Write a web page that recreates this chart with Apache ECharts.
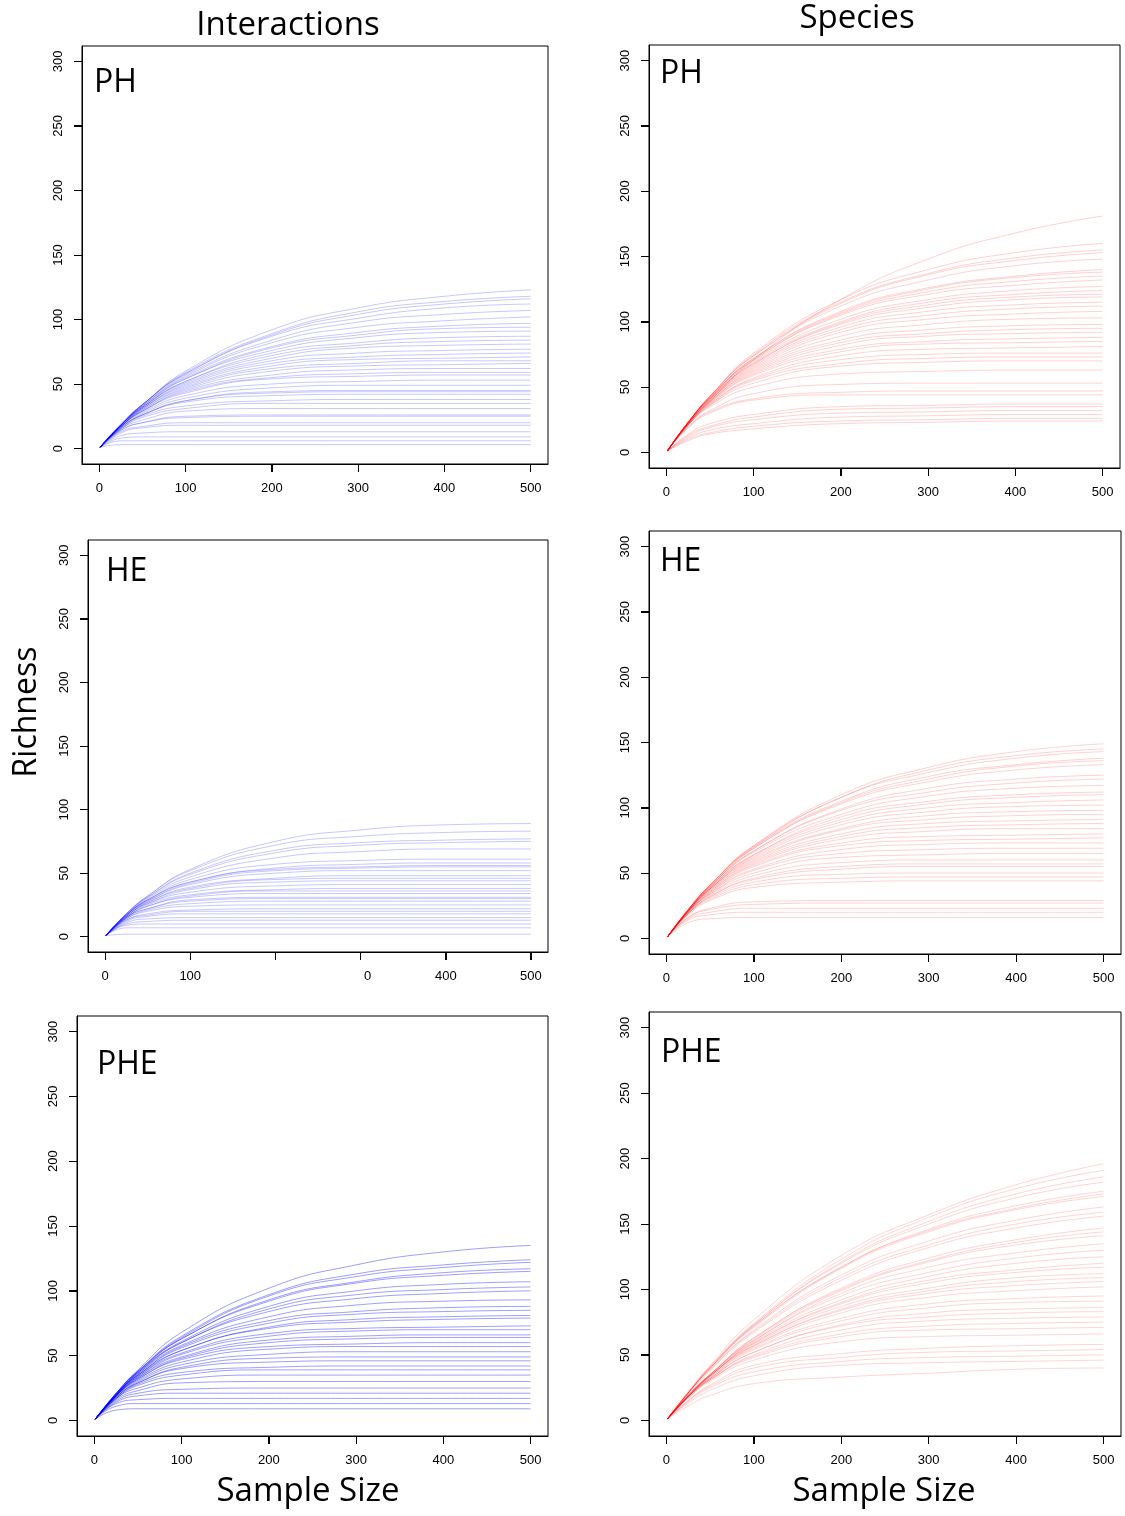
<!DOCTYPE html>
<html><head><meta charset="utf-8">
<script src="https://cdn.jsdelivr.net/npm/echarts@6/dist/echarts.min.js"></script>
<style>html,body{margin:0;padding:0;background:#fff}#c{width:1125px;height:1516px}</style>
</head><body><div id="c"></div>
<script>
// sample sizes at which each rarefaction curve is read
const sampleSizes = [1, 25, 50, 100, 200, 300, 400, 500];
const xTicks = [0, 100, 200, 300, 400, 500];
const yTicks = [0, 50, 100, 150, 200, 250, 300];

// Interactions, PH
const phInteractions = [
 [1,19,34,60,92,109,118,123],[1,19,34,59,89,106,114,118],[1,18,34,58,88,104,112,116],
 [1,18,34,58,87,101,109,112],[1,18,34,57,84,98,104,107],[1,18,33,56,82,94,99,102],
 [1,18,33,55,79,90,95,97],[1,18,33,54,78,88,93,94],[1,18,32,54,76,86,90,91],
 [1,18,32,52,74,82,86,87],[1,18,32,52,72,80,83,84],[1,18,32,51,70,78,80,81],
 [1,18,31,50,68,74,76,77],[1,17,31,49,66,71,73,74],[1,17,31,48,64,69,70,71],
 [1,17,30,47,62,66,68,68],[1,17,30,46,60,64,65,66],[1,17,29,45,57,61,62,62],
 [1,17,29,44,55,58,59,59],[1,17,29,43,54,56,57,57],[1,17,28,41,50,52,53,53],
 [1,16,27,39,47,49,49,49],[1,16,26,37,44,45,45,45],[1,16,26,37,43,44,44,44],
 [1,16,26,36,41,42,42,42],[1,15,25,33,37,38,38,38],[1,15,24,31,35,35,35,35],
 [1,15,22,29,31,31,31,31],[1,14,20,25,26,26,26,26],[1,14,20,24,25,25,25,25],
 [1,13,17,20,20,20,20,20],[1,12,16,18,18,18,18,18],[1,10,12,13,13,13,13,13],
 [1,8,9,9,9,9,9,9],[1,6,6,6,6,6,6,6],[1,3,3,3,3,3,3,3]
];
// Interactions, HE
const heInteractions = [
 [1,18,32,53,75,84,88,89],[1,18,32,52,72,79,82,83],[1,18,31,50,68,74,76,77],
 [1,18,31,49,66,72,74,75],[1,17,30,47,62,67,69,69],[1,17,29,45,57,60,61,61],
 [1,17,29,43,54,57,58,58],[1,17,29,43,53,55,56,56],[1,17,28,42,52,54,55,55],
 [1,17,28,41,50,52,52,52],[1,16,27,39,46,48,48,48],[1,16,27,38,45,46,46,46],
 [1,16,26,37,43,44,44,44],[1,16,26,35,40,41,41,41],[1,15,25,33,37,38,38,38],
 [1,15,24,32,36,36,36,36],[1,15,24,31,34,34,34,34],[1,15,22,29,31,31,31,31],
 [1,15,22,28,30,30,30,30],[1,14,21,26,28,28,28,28],[1,14,20,24,25,25,25,25],
 [1,13,18,21,22,22,22,22],[1,13,17,20,20,20,20,20],[1,12,16,18,18,18,18,18],
 [1,11,14,15,15,15,15,15],[1,10,12,13,13,13,13,13],[1,9,10,10,10,10,10,10],
 [1,7,7,7,7,7,7,7],[1,2,2,2,2,2,2,2]
];
// Interactions, PHE
const pheInteractions = [
 [1,21,39,68,102,120,130,135],[1,21,38,65,97,113,120,124],[1,21,38,64,96,111,118,122],
 [1,21,38,63,93,107,114,117],[1,20,37,63,92,106,112,115],[1,20,37,61,88,100,105,107],
 [1,20,37,60,86,97,101,103],[1,20,36,60,84,94,98,100],[1,20,36,58,80,89,92,93],
 [1,20,35,57,77,84,87,88],[1,20,35,56,75,82,84,85],[1,20,35,54,72,78,80,81],
 [1,20,34,54,71,76,78,79],[1,19,34,52,67,71,72,73],[1,19,33,51,65,69,70,70],
 [1,19,33,49,62,65,66,66],[1,19,32,48,60,63,64,64],[1,19,32,47,57,59,60,60],
 [1,19,31,45,55,57,57,57],[1,18,30,43,51,53,53,53],[1,18,29,41,48,49,49,49],
 [1,18,29,40,45,46,46,46],[1,17,28,37,41,42,42,42],[1,17,27,35,39,39,39,39],
 [1,17,25,32,35,35,35,35],[1,16,23,29,30,30,30,30],[1,15,21,24,25,25,25,25],
 [1,14,19,21,21,21,21,21],[1,13,16,17,17,17,17,17],[1,11,13,13,13,13,13,13],
 [1,8,9,9,9,9,9,9]
];
// Species, PH
const phSpecies = [
 [1,21,39,71,117,148,168,181],[1,23,43,76,117,140,153,160],[1,23,43,75,115,137,149,155],
 [1,23,43,74,114,136,147,153],[1,23,43,74,112,132,143,148],[1,23,42,72,108,126,135,140],
 [1,23,42,72,107,125,134,138],[1,23,42,71,106,123,131,135],[1,23,42,71,105,121,128,132],
 [1,23,42,70,102,117,124,127],[1,23,41,69,100,115,121,124],[1,23,41,68,99,113,119,121],
 [1,23,41,68,98,111,117,119],[1,23,41,67,96,108,113,115],[1,22,40,66,94,105,110,112],
 [1,22,40,65,92,102,106,108],[1,22,40,64,89,98,102,103],[1,22,39,63,86,94,97,98],
 [1,22,39,62,84,91,94,95],[1,22,39,61,82,89,91,92],[1,22,38,60,79,85,87,88],
 [1,22,38,59,77,83,84,85],[1,22,37,57,74,79,80,81],[1,21,37,56,71,75,76,76],
 [1,21,36,55,68,72,73,73],[1,21,36,53,66,69,70,70],[1,21,35,50,60,62,63,63],
 [1,20,32,45,52,53,53,53],[1,19,31,41,46,47,47,47],[1,19,30,40,44,44,44,44],
 [1,14,22,29,35,36,37,37],[1,13,20,27,33,34,35,35],[1,12,19,25,30,31,32,32],
 [1,11,17,22,27,28,29,29],[1,10,15,20,24,25,26,26],[1,9,14,18,22,23,24,24]
];
// Species, HE
const heSpecies = [
 [1,22,41,71,110,131,143,149],[1,22,41,71,108,129,140,145],[1,22,41,70,108,127,138,143],
 [1,22,41,70,105,124,133,138],[1,22,40,69,104,122,132,136],[1,22,40,69,103,120,129,133],
 [1,22,40,67,99,115,122,125],[1,22,40,67,98,112,119,122],[1,22,39,66,95,109,115,117],
 [1,21,39,64,93,105,110,112],[1,21,39,64,91,103,108,110],[1,21,38,63,89,100,104,106],
 [1,21,38,62,87,97,101,102],[1,21,38,61,84,94,97,98],[1,21,38,60,83,91,94,95],
 [1,21,37,59,80,88,90,91],[1,21,37,58,78,85,87,88],[1,21,36,57,76,82,84,84],
 [1,21,36,56,73,78,79,80],[1,20,35,55,71,75,76,77],[1,20,35,53,68,72,73,73],
 [1,20,34,52,65,68,69,69],[1,20,34,50,62,64,65,65],[1,20,33,48,58,60,60,60],
 [1,19,32,46,55,57,57,57],[1,19,32,45,53,55,55,55],[1,19,31,43,49,50,50,50],
 [1,19,30,41,46,47,47,47],[1,18,29,39,43,44,44,44],[1,16,23,28,29,29,29,29],
 [1,16,22,26,27,27,27,27],[1,15,20,23,23,23,23,23],[1,14,18,20,20,20,20,20],
 [1,12,15,16,16,16,16,16]
];
// Species, PHE
const pheSpecies = [
 [1,22,42,77,126,157,180,196],[1,21,41,74,123,155,177,191],[1,21,41,73,121,152,173,186],
 [1,21,40,73,120,150,170,182],[1,21,40,72,117,146,164,175],[1,21,40,72,117,145,162,173],
 [1,21,40,71,116,144,161,171],[1,21,39,69,111,137,153,163],[1,21,39,68,109,134,150,159],
 [1,20,38,67,107,132,147,156],[1,19,35,63,101,124,138,147],[1,19,35,63,100,122,136,144],
 [1,19,35,62,99,121,134,141],[1,19,35,61,97,117,128,135],[1,19,35,61,95,113,124,130],
 [1,19,34,60,92,110,120,125],[1,19,34,59,90,107,115,120],[1,19,34,59,89,105,113,117],
 [1,18,34,58,87,101,109,112],[1,18,34,57,85,99,106,109],[1,18,34,57,84,97,103,106],
 [1,18,33,56,82,94,99,102],[1,18,33,55,78,89,93,95],[1,18,32,54,76,86,90,91],
 [1,18,32,52,73,82,85,86],[1,18,32,52,72,79,82,83],[1,18,31,50,69,76,78,79],
 [1,18,31,49,66,72,74,75],[1,17,31,48,64,69,70,71],[1,17,30,46,60,64,65,66],
 [1,15,27,42,51,55,57,58],[1,15,26,40,48,52,53,54],[1,14,25,37,45,48,49,50],
 [1,13,23,34,42,44,45,46],[1,11,19,28,33,36,39,40]
];

const X_MIN = -20, X_MAX = 520, Y_MIN = -12, Y_MAX = 312, TICK_LEN = 8;
const panels = [
  {name:'PH',  curves:phInteractions,  rgb:'0,0,255', alpha:0.22, grid:{left:82, top:46,  width:466, height:418}, lab:[94,83]},
  {name:'PH',  curves:phSpecies,       rgb:'255,0,0', alpha:0.18, grid:{left:649,top:45,  width:471, height:423}, lab:[660,74]},
  {name:'HE',  curves:heInteractions,  rgb:'0,0,255', alpha:0.22, grid:{left:88, top:540, width:460, height:412}, lab:[106,572], odd:true},
  {name:'HE',  curves:heSpecies,       rgb:'255,0,0', alpha:0.18, grid:{left:649,top:531, width:472, height:423}, lab:[660,562]},
  {name:'PHE', curves:pheInteractions, rgb:'0,0,255', alpha:0.38, grid:{left:77, top:1016,width:471, height:420}, lab:[97,1065]},
  {name:'PHE', curves:pheSpecies,      rgb:'255,0,0', alpha:0.17, grid:{left:649,top:1012,width:472, height:424}, lab:[661,1053]}
];

const FF = '"Liberation Sans", Arial, sans-serif';
const grids = [], xAxes = [], yAxes = [], series = [], graphics = [];
const snap = v => Math.round(v - 0.5) + 0.5;
panels.forEach((p, i) => {
  grids.push(Object.assign({show:true, borderColor:'#000', borderWidth:1, backgroundColor:'#fff'}, p.grid));
  xAxes.push({
    type:'value', gridIndex:i, min:X_MIN, max:X_MAX,
    axisLine:{show:true, onZero:false, lineStyle:{color:'#000', width:1}}, splitLine:{show:false},
    axisTick:{show:true, inside:false, length:TICK_LEN, customValues:xTicks, lineStyle:{color:'#000', width:1}},
    axisLabel:{customValues:xTicks, margin:18, fontSize:13, fontFamily:FF, color:'#000',
      formatter: p.odd ? (v => v === 200 ? '' : (v === 300 ? '{s|0}' : String(v))) : (v => String(v)),
      rich:{s:{padding:[0,0,0,14], fontSize:13, fontFamily:FF, color:'#000'}}}
  });
  yAxes.push({
    type:'value', gridIndex:i, min:Y_MIN, max:Y_MAX,
    axisLine:{show:true, onZero:false, lineStyle:{color:'#000', width:1}}, splitLine:{show:false},
    axisTick:{show:true, inside:false, length:TICK_LEN, customValues:yTicks, lineStyle:{color:'#000', width:1}},
    axisLabel:{customValues:yTicks, rotate:90, margin:17, fontSize:13, fontFamily:FF, color:'#000'}
  });
  p.curves.forEach(c => {
    series.push({
      type:'line', xAxisIndex:i, yAxisIndex:i,
      data: sampleSizes.map((x, j) => [x, c[j]]),
      showSymbol:false, symbol:'none', smooth:0.5,
      silent:true, animation:false,
      lineStyle:{width:1, color:'rgba(' + p.rgb + ',' + p.alpha + ')'}
    });
  });
  // tick marks, placed through the axes' own scales
  series.push({
    type:'custom', xAxisIndex:i, yAxisIndex:i, clip:false, silent:true, z:10, animation:false,
    data: xTicks.map(v => [v, Y_MIN]),
    renderItem: (params, api) => {
      const pt = api.coord([api.value(0), api.value(1)]);
      const x = snap(pt[0]);
      return {type:'line', shape:{x1:x, y1:pt[1], x2:x, y2:pt[1] + TICK_LEN}, style:{stroke:'#000', lineWidth:1}};
    }
  });
  series.push({
    type:'custom', xAxisIndex:i, yAxisIndex:i, clip:false, silent:true, z:10, animation:false,
    data: yTicks.map(v => [X_MIN, v]),
    renderItem: (params, api) => {
      const pt = api.coord([api.value(0), api.value(1)]);
      const y = snap(pt[1]);
      return {type:'line', shape:{x1:pt[0] - TICK_LEN, y1:y, x2:pt[0], y2:y}, style:{stroke:'#000', lineWidth:1}};
    }
  });
  graphics.push({type:'text', x:p.lab[0], y:p.lab[1], z:100,
    style:{text:p.name, font:'32px "Open Sans", sans-serif', fill:'#000', textAlign:'left', textVerticalAlign:'middle'}});
});

const bigFont = '33px "Open Sans", sans-serif';
graphics.push({type:'text', x:288, y:26, style:{text:'Interactions', font:bigFont, fill:'#000', textAlign:'center', textVerticalAlign:'middle'}});
graphics.push({type:'text', x:857, y:19, style:{text:'Species', font:bigFont, fill:'#000', textAlign:'center', textVerticalAlign:'middle'}});
graphics.push({type:'text', x:27, y:712, rotation:Math.PI/2, style:{text:'Richness', font:'32px "Open Sans", sans-serif', fill:'#000', textAlign:'center', textVerticalAlign:'middle'}});
graphics.push({type:'text', x:308, y:1492, style:{text:'Sample Size', font:bigFont, fill:'#000', textAlign:'center', textVerticalAlign:'middle'}});
graphics.push({type:'text', x:884, y:1492, style:{text:'Sample Size', font:bigFont, fill:'#000', textAlign:'center', textVerticalAlign:'middle'}});

const chart = echarts.init(document.getElementById('c'));
chart.setOption({
  animation:false,
  grid:grids, xAxis:xAxes, yAxis:yAxes, series:series, graphic:graphics
});
</script></body></html>
